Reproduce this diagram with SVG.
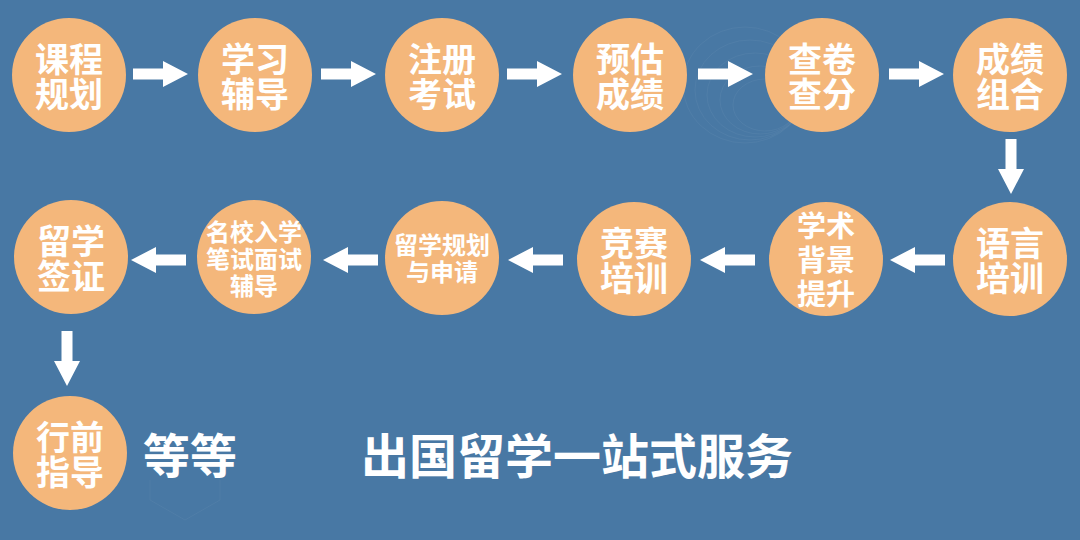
<svg xmlns="http://www.w3.org/2000/svg" width="1080" height="540" viewBox="0 0 1080 540">
<style>
.n{fill:#f4b77b}
.t{fill:#ffffff;font-family:"Noto Sans CJK SC","Noto Sans",sans-serif;font-weight:bold;text-anchor:middle;dominant-baseline:central}
.a{fill:#ffffff}
.deco{fill:none;stroke:#ffffff;stroke-opacity:0.045;stroke-width:1}
</style>
<defs>
<path id="ar" d="M0,-5.5 H30 V-13 L55,0 L30,13 V5.5 H0 Z"/>
</defs>
<rect width="1080" height="540" fill="#4878a4"/>
<g id="decoration">
<ellipse class="deco" cx="745" cy="85" rx="62" ry="58"/>
<ellipse class="deco" cx="750" cy="90" rx="55" ry="50"/>
<ellipse class="deco" cx="755" cy="95" rx="48" ry="42"/>
<ellipse class="deco" cx="760" cy="100" rx="40" ry="34"/>
<ellipse class="deco" cx="765" cy="105" rx="32" ry="26"/>
<path class="deco" d="M150,480 L150,500 L185,520 L220,500 L220,480"/>
</g>
<g id="connectors">
<use href="#ar" class="a" transform="translate(133,74)"/>
<use href="#ar" class="a" transform="translate(321,74)"/>
<use href="#ar" class="a" transform="translate(507,74)"/>
<use href="#ar" class="a" transform="translate(698,74)"/>
<use href="#ar" class="a" transform="translate(889,74)"/>
<use href="#ar" class="a" transform="translate(1011,139) rotate(90)"/>
<use href="#ar" class="a" transform="translate(945,260) rotate(180)"/>
<use href="#ar" class="a" transform="translate(755,260) rotate(180)"/>
<use href="#ar" class="a" transform="translate(563,260) rotate(180)"/>
<use href="#ar" class="a" transform="translate(378,260) rotate(180)"/>
<use href="#ar" class="a" transform="translate(186,260) rotate(180)"/>
<use href="#ar" class="a" transform="translate(67,331) rotate(90)"/>
</g>
<g id="n1"><circle class="n" cx="69" cy="75" r="57"/><text class="t" font-size="34"><tspan x="69" y="57">课程</tspan><tspan x="69" y="92">规划</tspan></text></g>
<g id="n2"><circle class="n" cx="255" cy="75" r="57"/><text class="t" font-size="34"><tspan x="255" y="57">学习</tspan><tspan x="255" y="92">辅导</tspan></text></g>
<g id="n3"><circle class="n" cx="442" cy="75" r="57"/><text class="t" font-size="34"><tspan x="442" y="57">注册</tspan><tspan x="442" y="92">考试</tspan></text></g>
<g id="n4"><circle class="n" cx="630" cy="75" r="57"/><text class="t" font-size="34"><tspan x="630" y="57">预估</tspan><tspan x="630" y="92">成绩</tspan></text></g>
<g id="n5"><circle class="n" cx="822" cy="75" r="57"/><text class="t" font-size="34"><tspan x="822" y="57">查卷</tspan><tspan x="822" y="92">查分</tspan></text></g>
<g id="n6"><circle class="n" cx="1010" cy="75" r="57"/><text class="t" font-size="34"><tspan x="1010" y="57">成绩</tspan><tspan x="1010" y="92">组合</tspan></text></g>
<g id="n7"><circle class="n" cx="1010" cy="259" r="57"/><text class="t" font-size="34"><tspan x="1010" y="241">语言</tspan><tspan x="1010" y="276">培训</tspan></text></g>
<g id="n8"><circle class="n" cx="826" cy="259" r="57"/><text class="t" font-size="29"><tspan x="826" y="224">学术</tspan><tspan x="826" y="258">背景</tspan><tspan x="826" y="292">提升</tspan></text></g>
<g id="n9"><circle class="n" cx="634" cy="259" r="57"/><text class="t" font-size="34"><tspan x="634" y="241">竞赛</tspan><tspan x="634" y="276">培训</tspan></text></g>
<g id="n10"><circle class="n" cx="442" cy="258" r="57"/><text class="t" font-size="24"><tspan x="442" y="243">留学规划</tspan><tspan x="442" y="270">与申请</tspan></text></g>
<g id="n11"><circle class="n" cx="254" cy="257" r="57"/><text class="t" font-size="24"><tspan x="254" y="230">名校入学</tspan><tspan x="254" y="257">笔试面试</tspan><tspan x="254" y="284">辅导</tspan></text></g>
<g id="n12"><circle class="n" cx="71" cy="257" r="57"/><text class="t" font-size="34"><tspan x="71" y="239">留学</tspan><tspan x="71" y="274">签证</tspan></text></g>
<g id="n13"><circle class="n" cx="70" cy="453" r="57"/><text class="t" font-size="34"><tspan x="70" y="435">行前</tspan><tspan x="70" y="470">指导</tspan></text></g>
<text class="t" font-size="47" x="190" y="452">等等</text>
<text class="t" font-size="48" x="577" y="453">出国留学一站式服务</text>
</svg>
